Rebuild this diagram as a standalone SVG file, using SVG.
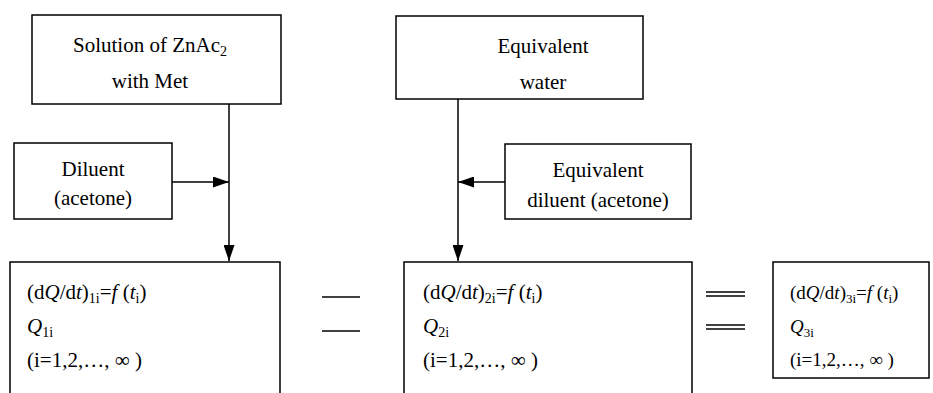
<svg xmlns="http://www.w3.org/2000/svg" width="933" height="393" viewBox="0 0 933 393">
<defs>
<marker id="ah" viewBox="0 0 16 11" refX="16" refY="5.5" markerWidth="16" markerHeight="11" markerUnits="userSpaceOnUse" orient="auto">
<path d="M0,0 L16,5.5 L0,11 z" fill="#000"/>
</marker>
<style>
.box{fill:#fff;stroke:#000;stroke-width:1.5}
.t{font-family:'Liberation Serif','Times New Roman',serif;font-size:21px;fill:#000}
.c{text-anchor:middle}
.i{font-style:italic}
.s{font-size:14px}
.sm{font-size:19px}
.ss{font-size:13px}
.ln{stroke:#000;stroke-width:1.5;fill:none}
</style>
</defs>
<rect width="933" height="393" fill="#fff"/>

<g id="connectors">
<line class="ln" x1="229" y1="104" x2="229" y2="261" marker-end="url(#ah)"/>
<line class="ln" x1="172" y1="182" x2="229" y2="182" marker-end="url(#ah)"/>
<line class="ln" x1="458" y1="99" x2="458" y2="261" marker-end="url(#ah)"/>
<line class="ln" x1="505" y1="182" x2="458" y2="182" marker-end="url(#ah)"/>
<line class="ln" x1="322" y1="297" x2="360" y2="297"/>
<line class="ln" x1="322" y1="331" x2="360" y2="331"/>
<line class="ln" x1="706" y1="292" x2="745" y2="292"/>
<line class="ln" x1="706" y1="296" x2="745" y2="296"/>
<line class="ln" x1="706" y1="325" x2="745" y2="325"/>
<line class="ln" x1="706" y1="329" x2="745" y2="329"/>
</g>

<g id="solution">
<rect class="box" x="32" y="15" width="249" height="89"/>
<text class="t c" x="150" y="52">Solution of ZnAc<tspan class="s" dy="4">2</tspan></text>
<text class="t c" x="150" y="88">with Met</text>
</g>

<g id="water">
<rect class="box" x="396" y="16" width="247" height="83"/>
<text class="t c" x="543" y="53">Equivalent</text>
<text class="t c" x="543" y="89">water</text>
</g>

<g id="diluent">
<rect class="box" x="14" y="143" width="158" height="76"/>
<text class="t c" x="93" y="176">Diluent</text>
<text class="t c" x="93" y="205">(acetone)</text>
</g>

<g id="eqdiluent">
<rect class="box" x="505" y="144" width="186" height="75"/>
<text class="t c" x="598" y="177">Equivalent</text>
<text class="t c" x="598" y="207">diluent (acetone)</text>
</g>

<g id="result1">
<path class="ln" d="M10,395 V262 H280 V395"/>
<text class="t" x="27" y="299">(d<tspan class="i">Q</tspan>/d<tspan class="i">t</tspan>)<tspan class="s" dy="4">1i</tspan><tspan dy="-4">=</tspan><tspan class="i">f</tspan> (<tspan class="i">t</tspan><tspan class="s" dy="4">i</tspan><tspan dy="-4">)</tspan></text>
<text class="t" x="27" y="333"><tspan class="i">Q</tspan><tspan class="s" dy="4">1i</tspan></text>
<text class="t" x="27" y="367">(i=1,2,…, ∞ )</text>
</g>

<g id="result2">
<path class="ln" d="M404,395 V262 H692 V395"/>
<text class="t" x="423" y="299">(d<tspan class="i">Q</tspan>/d<tspan class="i">t</tspan>)<tspan class="s" dy="4">2i</tspan><tspan dy="-4">=</tspan><tspan class="i">f</tspan> (<tspan class="i">t</tspan><tspan class="s" dy="4">i</tspan><tspan dy="-4">)</tspan></text>
<text class="t" x="423" y="333"><tspan class="i">Q</tspan><tspan class="s" dy="4">2i</tspan></text>
<text class="t" x="423" y="367">(i=1,2,…, ∞ )</text>
</g>

<g id="result3">
<rect class="box" x="773" y="262" width="156" height="116"/>
<text class="t sm" x="790" y="299">(d<tspan class="i">Q</tspan>/d<tspan class="i">t</tspan>)<tspan class="ss" dy="4">3i</tspan><tspan dy="-4">=</tspan><tspan class="i">f</tspan> (<tspan class="i">t</tspan><tspan class="ss" dy="4">i</tspan><tspan dy="-4">)</tspan></text>
<text class="t sm" x="790" y="333"><tspan class="i">Q</tspan><tspan class="ss" dy="4">3i</tspan></text>
<text class="t sm" x="790" y="366">(i=1,2,…, ∞ )</text>
</g>
</svg>
